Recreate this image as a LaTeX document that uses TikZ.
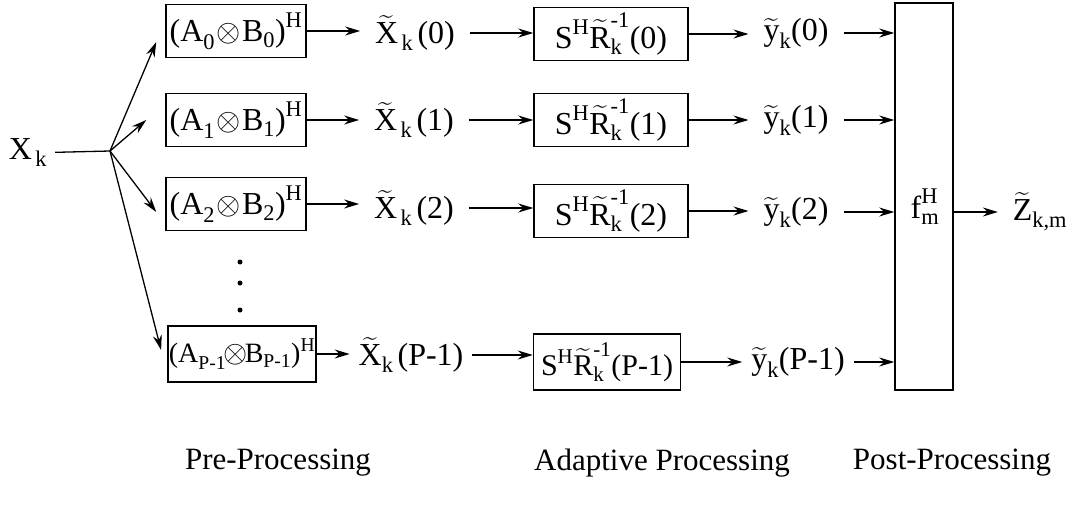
\documentclass[tikz,border=0pt]{standalone}
\usepackage{amsmath}
\usepackage{fontspec}
\setmainfont{Liberation Serif}
\usetikzlibrary{arrows.meta, positioning}
\newcommand{\rmtx}[1]{\text{#1}}
\newcommand{\wt}[1]{\widetilde{\rmtx{#1}}}
\newcommand{\kron}{\mathbin{\scalebox{1.25}{$\otimes$}}}

\begin{document}
\begin{tikzpicture}[
    x=1pt, y=-1pt,
    font=\fontsize{32}{38}\selectfont,
    box/.style={
        draw, line width=1.5pt, rectangle,
        minimum height=53pt, inner sep=1pt, align=center
    },
    sig/.style={inner sep=1pt, outer xsep=14pt},
    stage/.style={font=\fontsize{31}{36}\selectfont},
    arr/.style={-{Stealth[length=15pt, width=9pt, inset=5pt]}, line width=1.3pt},
]
\useasboundingbox (0,0) rectangle (1075,513);

% input and fan-out
\node[inner sep=2pt, outer xsep=6pt] (xk) at (28,153) {$\rmtx{X}_{\,\rmtx{k}}$};
\coordinate (fan) at (110,151);

% pre-processing
\node[box, minimum width=140pt] (b0) at (236,31) {$\rmtx{(A}_{\rmtx{0}}\!\kron\!\rmtx{B}_{\rmtx{0}}\rmtx{)}^{\rmtx{H}}$};
\node[box, minimum width=140pt] (b1) at (236,120) {$\rmtx{(A}_{\rmtx{1}}\!\kron\!\rmtx{B}_{\rmtx{1}}\rmtx{)}^{\rmtx{H}}$};
\node[box, minimum width=140pt] (b2) at (236,204) {$\rmtx{(A}_{\rmtx{2}}\!\kron\!\rmtx{B}_{\rmtx{2}}\rmtx{)}^{\rmtx{H}}$};
\node[box, minimum width=148pt, minimum height=56pt, font=\fontsize{28}{34}\selectfont] (bp) at (242,354) {$\rmtx{(A}_{\rmtx{P-1}}\!\!\kron\!\!\rmtx{B}_{\rmtx{P-1}}\rmtx{)}^{\rmtx{H}}$};

\node[sig] (xt0) at (415,33) {$\wt{X}_{\,\rmtx{k}}\,\rmtx{(0)}$};
\node[sig] (xt1) at (414,120) {$\wt{X}_{\,\rmtx{k}}\,\rmtx{(1)}$};
\node[sig] (xt2) at (414,208) {$\wt{X}_{\,\rmtx{k}}\,\rmtx{(2)}$};
\node[sig, outer xsep=8pt] (xtp) at (411,355) {$\wt{X}_{\rmtx{k}}\,\rmtx{(P-1)}$};

% adaptive processing
\node[box, minimum width=154pt] (s0) at (611,34) {$\rmtx{S}^{\rmtx{H}}\wt{R}^{\rmtx{-1}}_{\rmtx{k}}\rmtx{(0)}$};
\node[box, minimum width=154pt] (s1) at (611,120) {$\rmtx{S}^{\rmtx{H}}\wt{R}^{\rmtx{-1}}_{\rmtx{k}}\rmtx{(1)}$};
\node[box, minimum width=154pt] (s2) at (611,211) {$\rmtx{S}^{\rmtx{H}}\wt{R}^{\rmtx{-1}}_{\rmtx{k}}\rmtx{(2)}$};
\node[box, minimum width=147pt, minimum height=56pt, font=\fontsize{30}{36}\selectfont] (sp) at (607,362) {$\rmtx{S}^{\rmtx{H}}\wt{R}^{\rmtx{-1}}_{\rmtx{k}}\rmtx{(P-1)}$};

\node[sig] (yt0) at (796,33) {$\wt{y}_{\rmtx{k}}\rmtx{(0)}$};
\node[sig] (yt1) at (796,120) {$\wt{y}_{\rmtx{k}}\rmtx{(1)}$};
\node[sig] (yt2) at (796,212) {$\wt{y}_{\rmtx{k}}\rmtx{(2)}$};
\node[sig, outer xsep=8pt] (ytp) at (798,362) {$\wt{y}_{\rmtx{k}}\rmtx{(P-1)}$};

% post-processing
\node[box, minimum width=58pt, minimum height=387pt] (post) at (924,196.5) {};
\node[inner sep=1pt] (fm) at (925,207) {$\rmtx{f}^{\rmtx{H}}_{\rmtx{m}}$};
\node[sig] (zt) at (1040,212) {$\wt{Z}_{\rmtx{k,m}}$};

% dots
\foreach \y in {262,283,310}
    \fill (240,\y) circle (2.5pt);

% connectors
\draw[line width=1.3pt] (xk) -- (fan);
\draw[arr] (fan) -- ([xshift=-9pt, yshift=-11pt]b0.west);
\draw[arr] (fan) -- ([xshift=-19pt]b1.west);
\draw[arr] (fan) -- ([xshift=-9pt, yshift=-8pt]b2.west);
\draw[arr] (fan) -- ([xshift=-6pt, yshift=4pt]bp.west);

\foreach \i in {0,1,2,p} {
    \draw[arr] (b\i.east) -- (b\i.east -| xt\i.west);
    \draw[arr] (xt\i.east) -- (xt\i.east -| s\i.west);
    \draw[arr] (s\i.east) -- (s\i.east -| yt\i.west);
    \draw[arr] (yt\i.east) -- (yt\i.east -| post.west);
}
\draw[arr] (post.east |- zt) -- (zt.west);

% stage labels
\node[stage] (pre) at (278,463) {Pre-Processing};
\node[stage] (adapt) at (662,463) {Adaptive Processing};
\node[stage] (postlbl) at (952,463) {Post-Processing};
\end{tikzpicture}
\end{document}
